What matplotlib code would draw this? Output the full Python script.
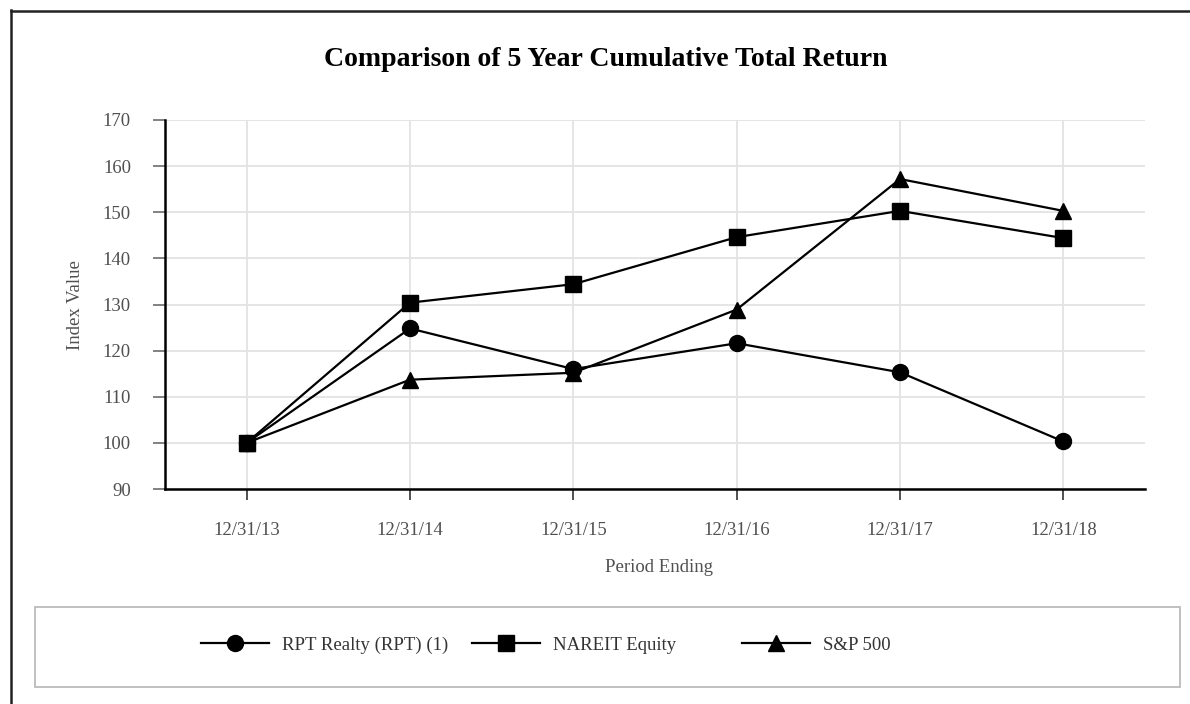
import matplotlib
matplotlib.use("Agg")
import matplotlib.pyplot as plt
from matplotlib.patches import Rectangle
from matplotlib.lines import Line2D

# data
periods = ["12/31/13", "12/31/14", "12/31/15", "12/31/16", "12/31/17", "12/31/18"]
rpt = [100, 124.8, 116.0, 121.6, 115.3, 100.3]
nareit = [100, 130.4, 134.4, 144.6, 150.3, 144.4]
sp500 = [100, 113.7, 115.2, 128.9, 157.2, 150.3]
series_names = ["RPT Realty (RPT) (1)", "NAREIT Equity", "S&P 500"]
yticks = [90, 100, 110, 120, 130, 140, 150, 160, 170]

plt.rcParams['font.family'] = ['Liberation Serif', 'DejaVu Serif']

W, H = 1190, 704
fig = plt.figure(figsize=(W / 100, H / 100), dpi=100)
ax = fig.add_axes([165 / W, 1 - 489 / H, (1145 - 165) / W, (489 - 120) / H])

x = list(range(len(periods)))
lines = []
for vals, mk in zip([rpt, nareit, sp500], ["o", "s", "^"]):
    ln, = ax.plot(x, vals, color="black", lw=1.6, marker=mk, markersize=11.5,
                  markerfacecolor="black", markeredgecolor="black", zorder=3)
    lines.append(ln)

ax.set_xlim(-0.5, 5.5)
ax.set_ylim(90, 170)
ax.set_yticks(yticks)
ax.set_xticks(x)
ax.set_xticklabels(periods)
ax.grid(True, color="#e3e3e3", lw=1.3)
ax.set_axisbelow(True)
for s in ["top", "right"]:
    ax.spines[s].set_visible(False)
ax.spines["left"].set_linewidth(1.8)
ax.spines["bottom"].set_linewidth(1.8)
ax.tick_params(axis="y", length=8.5, width=1.3, color="#777777", pad=16,
               labelsize=13.5, labelcolor="#505050")
ax.tick_params(axis="x", length=8, width=1.2, color="#333333", pad=16,
               labelsize=13.5, labelcolor="#505050")

fig.text(606 / W, 1 - 60 / H, "Comparison of 5 Year Cumulative Total Return",
         ha="center", va="center", fontsize=20, fontweight="bold")
fig.text(75 / W, 1 - 305 / H, "Index Value", rotation=90, ha="center",
         va="center", fontsize=13.5, color="#505050")
fig.text(659 / W, 1 - 567 / H, "Period Ending", ha="center", va="center",
         fontsize=13.5, color="#505050")

# outer frame (left and top only, the rest is cut off)
fig.add_artist(Line2D([10.5 / W, 10.5 / W], [0, 1 - 10 / H], transform=fig.transFigure,
                      color="#222222", lw=1.8))
fig.add_artist(Line2D([10.5 / W, 1], [1 - 10.5 / H, 1 - 10.5 / H], transform=fig.transFigure,
                      color="#222222", lw=1.8))

# legend box
fig.add_artist(Rectangle((35 / W, 1 - 687 / H), (1180 - 35) / W, (687 - 607) / H,
                         transform=fig.transFigure, fill=False, edgecolor="#bbbbbb", lw=1.3))
# one entry per legend so the uneven spacing of the original can be kept
legend_x = [201, 472, 742]
for ln, name, lx in zip(lines, series_names, legend_x):
    leg = fig.legend([ln], [name], loc="center left", bbox_to_anchor=(lx / W, 1 - 645 / H),
                     frameon=False, fontsize=13.5, handlelength=3.6, handletextpad=0.7,
                     borderpad=0, borderaxespad=0)
    leg.get_texts()[0].set_color("#333333")

fig.savefig("out.png", dpi=100)
